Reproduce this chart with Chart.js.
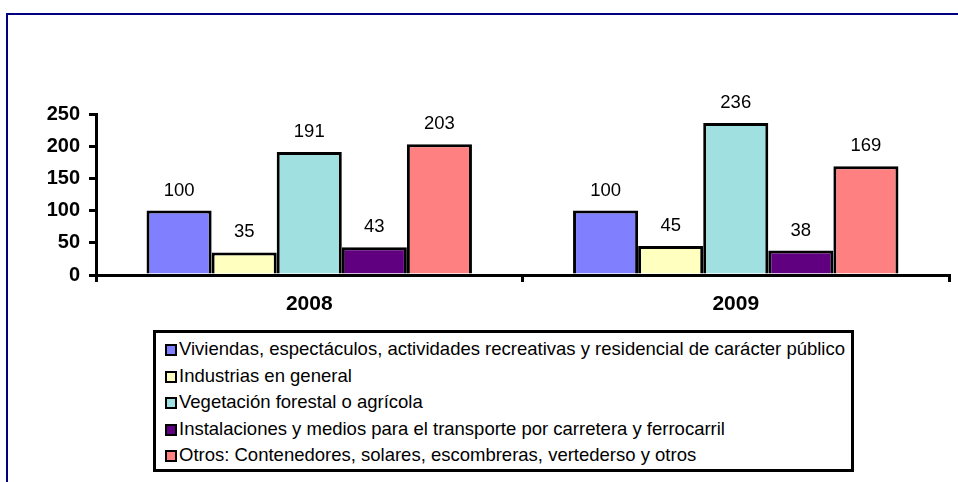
<!DOCTYPE html>
<html>
<head>
<meta charset="utf-8">
<script src="https://cdn.jsdelivr.net/npm/chart.js@4/dist/chart.umd.min.js"></script>
<style>
  body { margin:0; background:#fff; font-family:"Liberation Sans", Arial, sans-serif; }
  #wrap { position:relative; width:958px; height:482px; overflow:hidden; }
  #frame { position:absolute; left:6px; top:13px; width:980px; height:500px; border:2px solid #000080; box-sizing:border-box; }
  #chartBox { position:absolute; left:0; top:0; width:958px; height:330px; }
  #legend { position:absolute; left:153px; top:330px; width:701px; height:142px; border:3px solid #000; box-sizing:border-box; background:#fff; padding-top:3px; }
  .item { height:26.5px; line-height:26.5px; font-size:18.5px; color:#000; white-space:nowrap; padding-left:9px; }
  .sw { display:inline-block; width:8px; height:8px; border:2.5px solid #000; margin-right:2px; vertical-align:-1px; }
</style>
</head>
<body>
<div id="wrap">
  <div id="frame"></div>
  <div id="chartBox"><canvas id="chart"></canvas></div>
  <div id="legend"></div>
</div>
<script>
// datos
const years = ['2008', '2009'];
const seriesNames = [
  'Viviendas, espectáculos, actividades recreativas y residencial de carácter público',
  'Industrias en general',
  'Vegetación forestal o agrícola',
  'Instalaciones y medios para el transporte por carretera y ferrocarril',
  'Otros: Contenedores, solares, escombreras, vertederso y otros'
];
const viviendas = [100, 100];
const industrias = [35, 45];
const vegetacion = [191, 236];
const transporte = [43, 38];
const otros = [203, 169];
const colors = ['#8080FF', '#FFFFC0', '#A0E0E0', '#600080', '#FF8080'];
const yTicks = [0, 50, 100, 150, 200, 250];

const values = [viviendas, industrias, vegetacion, transporte, otros];

// etiquetas encima de las barras
const valueLabels = {
  id:'valueLabels',
  afterDatasetsDraw(chart) {
    const ctx = chart.ctx;
    ctx.save();
    ctx.font = '18.5px "Liberation Sans", Arial, sans-serif';
    ctx.fillStyle = '#000';
    ctx.textAlign = 'center';
    ctx.textBaseline = 'alphabetic';
    chart.data.datasets.forEach((ds, i) => {
      chart.getDatasetMeta(i).data.forEach((bar, j) => {
        ctx.fillText(ds.data[j], bar.x, bar.y - 15);
      });
    });
    ctx.restore();
  }
};

new Chart(document.getElementById('chart'), {
  type:'bar',
  data:{
    labels:years,
    datasets:values.map((v,i)=>({label:seriesNames[i],data:v,backgroundColor:colors[i],borderColor:'#000',borderWidth:3,barPercentage:1,categoryPercentage:0.763}))
  },
  options:{
    responsive:true, maintainAspectRatio:false, animation:false,
    layout:{padding:{left:0,top:114,right:9,bottom:0}},
    plugins:{legend:{display:false},tooltip:{enabled:false}},
    scales:{
      x:{
        grid:{drawOnChartArea:false,drawTicks:true,tickLength:7,color:'#000',lineWidth:3,offset:true},
        border:{color:'#000',width:3},
        ticks:{color:'#000',font:{family:'"Liberation Sans", Arial',size:21,weight:'bold'},padding:10},
        afterFit(s){ s.height = 55; }
      },
      y:{
        min:0, max:250,
        afterBuildTicks(s){ s.ticks = yTicks.map(v=>({value:v})); },
        grid:{drawOnChartArea:false,drawTicks:true,tickLength:7,color:'#000',lineWidth:3},
        border:{color:'#000',width:3},
        ticks:{color:'#000',font:{family:'"Liberation Sans", Arial',size:20,weight:'bold'},padding:9},
        afterFit(s){ s.width = 96; }
      }
    }
  },
  plugins:[valueLabels]
});

// leyenda
document.getElementById('legend').innerHTML = seriesNames.map((n,i)=>
  `<div class="item"><span class="sw" style="background:${colors[i]}"></span>${n}</div>`).join('');
</script>
</body>
</html>
